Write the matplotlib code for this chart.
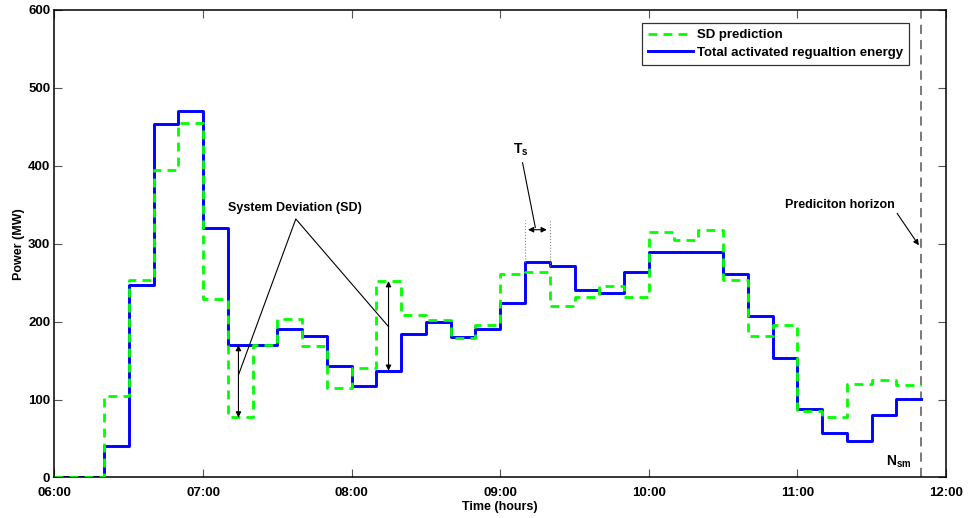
import numpy as np
import matplotlib.pyplot as plt

plt.rcParams['font.family'] = ['Liberation Sans', 'DejaVu Sans']
plt.rcParams['font.weight'] = 'bold'
plt.rcParams['mathtext.fontset'] = 'custom'
plt.rcParams['mathtext.bf'] = 'Liberation Sans:bold'
plt.rcParams['mathtext.rm'] = 'Liberation Sans:bold'

# 10-minute settlement intervals from 06:00 to 11:50
step_hours = 1.0 / 6.0
start_hour = 6.0

# total activated regulation energy (MW), one value per interval
activated = [0, 0, 40, 247, 454, 471, 320, 170, 170, 190,
             181, 143, 117, 137, 184, 200, 180, 190, 224, 277,
             271, 241, 237, 264, 290, 290, 290, 261, 207, 154,
             88, 57, 47, 80, 101]

# system deviation prediction (MW)
sd_pred = [0, 0, 104, 253, 395, 455, 229, 77, 170, 203,
           169, 115, 141, 252, 208, 202, 179, 196, 261, 264,
           220, 232, 246, 232, 315, 305, 318, 254, 182, 196,
           85, 78, 120, 125, 119]

xtick_hours = [6, 7, 8, 9, 10, 11, 12]
xtick_labels = ['06:00', '07:00', '08:00', '09:00', '10:00', '11:00', '12:00']
ytick_values = [0, 100, 200, 300, 400, 500, 600]

horizon_hour = 11.0 + 50.0 / 60.0

edges = start_hour + step_hours * np.arange(len(activated) + 1)
act = np.append(activated, activated[-1])
pred = np.append(sd_pred, sd_pred[-1])

fig = plt.figure(figsize=(9.68, 5.18), dpi=100)
ax = fig.add_axes([0.0563, 0.0782, 0.9210, 0.9025])

ax.step(edges, pred, where='post', color=(0, 1, 0), lw=2, ls=(0, (3.2, 2.2)),
        label='SD prediction', zorder=3)
ax.step(edges, act, where='post', color=(0, 0, 1), lw=2.1,
        label='Total activated regualtion energy', zorder=2)

ax.axvline(horizon_hour, color='#555555', lw=1.1, ls=(0, (6, 4)), zorder=1)

ax.set_xlim(6, 12)
ax.set_ylim(0, 600)
ax.set_xticks(xtick_hours)
ax.set_xticklabels(xtick_labels)
ax.set_yticks(ytick_values)
ax.tick_params(direction='in', length=6, width=0.8, color='#555555',
               top=True, right=True, labelsize=9.5)
ax.tick_params(axis='x', pad=6.5)
ax.tick_params(axis='y', pad=3)
for lbl in ax.get_xticklabels() + ax.get_yticklabels():
    lbl.set_fontweight('bold')
for sp in ax.spines.values():
    sp.set_linewidth(1.1)

ax.set_xlabel('Time (hours)', fontsize=9, fontweight='bold', labelpad=2)
ax.set_ylabel('Power (MW)', fontsize=9, fontweight='bold', labelpad=2)

leg = ax.legend(loc='upper right', bbox_to_anchor=(0.966, 0.986), fontsize=9.5,
                frameon=True, fancybox=False, edgecolor='black',
                handlelength=3.4, handletextpad=0.3, borderpad=0.45,
                labelspacing=0.4)
leg.get_frame().set_linewidth(0.9)
for t in leg.get_texts():
    t.set_fontweight('bold')

# system deviation arrows and the label pointing at them
arrow_kw = dict(arrowstyle='<|-|>', color='black', lw=0.8,
                mutation_scale=8, shrinkA=0, shrinkB=0)
ax.annotate('', xy=(7.238, 170), xytext=(7.238, 77), arrowprops=arrow_kw)
ax.annotate('', xy=(8.248, 252), xytext=(8.248, 137), arrowprops=arrow_kw)

ax.text(7.62, 346, 'System Deviation (SD)', ha='center', va='center',
        fontsize=9, fontweight='bold')
ax.plot([7.238, 7.624, 8.248], [131.6, 331.8, 193.6], color='black', lw=0.8)

# sampling time marker
ts_lo, ts_hi = 9.0 + 10.0 / 60.0, 9.0 + 20.0 / 60.0
ax.plot([ts_lo, ts_lo], [277, 330], color='#888888', lw=0.8, ls=':')
ax.plot([ts_hi, ts_hi], [271, 330], color='#888888', lw=0.8, ls=':')
ax.annotate('', xy=(ts_lo + 0.02, 318), xytext=(ts_hi - 0.02, 318),
            arrowprops=dict(arrowstyle='<|-|>', color='black', lw=0.8,
                            mutation_scale=8, shrinkA=0, shrinkB=0))
ax.text(9.138, 420, r'$\mathbf{T_s}$', ha='center', va='center', fontsize=10)
ax.plot([9.150, 9.236], [404, 321], color='black', lw=0.8)

# prediction horizon
ax.text(11.283, 350, 'Prediciton horizon', ha='center', va='center',
        fontsize=9, fontweight='bold')
ax.annotate('', xy=(11.817, 298), xytext=(11.671, 339),
            arrowprops=dict(arrowstyle='-|>', color='black', lw=0.8,
                            mutation_scale=8, shrinkA=0, shrinkB=0))
ax.text(11.68, 20, r'$\mathbf{N_{sm}}$', ha='center', va='center', fontsize=10)

plt.savefig('out.png', dpi=100)
